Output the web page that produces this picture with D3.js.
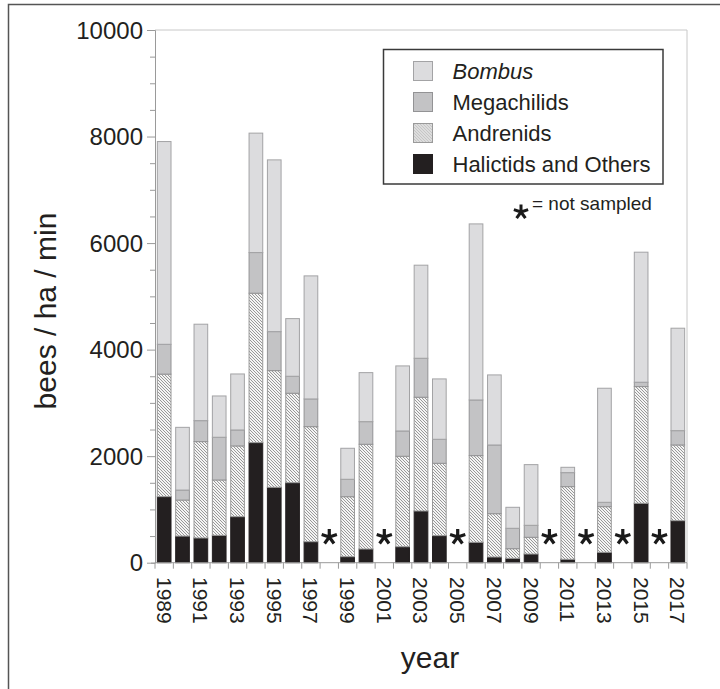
<!DOCTYPE html>
<html>
<head>
<meta charset="utf-8">
<script src="https://cdn.jsdelivr.net/npm/d3@7"></script>
<style>
  html, body { margin: 0; padding: 0; background: #fff; }
  svg { display: block; font-family: "Liberation Sans", Arial, sans-serif; }
</style>
</head>
<body>
<svg id="chart" width="720" height="689"></svg>
<script>
// Bee visitation (bees / ha / min) by year; null = year not sampled
const years      = d3.range(1989, 2018);
const halictids  = [1240, 500, 464, 514, 864, 2254, 1416, 1502, 394, null, 113, 257, null, 300, 971, 508, null, 383, 107, 82, 163, null, 64, null, 195, null, 1115, null, 789];
const andrenids  = [2300, 676, 1809, 1039, 1328, 2805, 2190, 1679, 2160, null, 1126, 1966, null, 1698, 2135, 1358, null, 1627, 813, 181, 314, null, 1364, null, 857, null, 2191, null, 1421];
const megachilids= [560, 188, 394, 802, 300, 763, 732, 319, 520, null, 327, 425, null, 475, 732, 451, null, 1045, 1290, 383, 225, null, 263, null, 82, null, 82, null, 269];
const bombus     = [3806, 1177, 1810, 775, 1051, 2242, 3224, 1082, 2310, null, 582, 920, null, 1221, 1747, 1133, null, 3305, 1315, 394, 1139, null, 100, null, 2141, null, 2441, null, 1923];
const yTicks     = [0, 2000, 4000, 6000, 8000, 10000];
const xTickYears = years.filter(y => y % 2 === 1);

const seriesKeys   = ["halictids", "andrenids", "megachilids", "bombus"];
const seriesNames  = { bombus: "Bombus", megachilids: "Megachilids", andrenids: "Andrenids", halictids: "Halictids and Others" };
const seriesFill   = { bombus: "#dcdcde", megachilids: "#c3c3c5", andrenids: "url(#hatch)", halictids: "#231f20" };
const seriesStroke = { bombus: "#a3a3a5", megachilids: "#939395", andrenids: "#9a9a9a", halictids: "#231f20" };

const rows = years.map((yr, i) => ({
  year: yr,
  sampled: bombus[i] !== null,
  halictids: halictids[i] || 0,
  andrenids: andrenids[i] || 0,
  megachilids: megachilids[i] || 0,
  bombus: bombus[i] || 0
}));

const svg = d3.select("#chart");

// hatch pattern for Andrenids
const defs = svg.append("defs");
const pat = defs.append("pattern")
  .attr("id", "hatch").attr("patternUnits", "userSpaceOnUse")
  .attr("width", 3).attr("height", 3);
pat.append("rect").attr("width", 3).attr("height", 3).attr("fill", "#f4f4f4");
pat.append("path").attr("d", "M-1,-1 L4,4 M-1,2 L1,4 M2,-1 L4,1")
  .attr("stroke", "#8d8d8d").attr("stroke-width", 0.9);

// outer frame
svg.append("rect").attr("x", 8.5).attr("y", 4.5).attr("width", 740).attr("height", 720)
  .attr("fill", "none").attr("stroke", "#555").attr("stroke-width", 1.5);

const plotLeft = 155, plotRight = 687, plotTop = 30, plotBottom = 562.7;

const x = d3.scaleBand().domain(years).range([plotLeft, plotRight]).paddingInner(0.2).paddingOuter(0.1);
const y = d3.scaleLinear().domain([0, 10000]).range([plotBottom, plotTop]);

// plot frame (top / right)
svg.append("path")
  .attr("d", `M${plotLeft},${plotTop}H${plotRight}V${plotBottom}`)
  .attr("fill", "none").attr("stroke", "#c8c8c8").attr("stroke-width", 1);

// stacked bars
const stack = d3.stack().keys(seriesKeys)(rows);
const layers = svg.append("g").selectAll("g").data(stack).join("g")
  .attr("fill", d => seriesFill[d.key])
  .attr("stroke", d => seriesStroke[d.key])
  .attr("stroke-width", 1);

layers.selectAll("rect")
  .data(d => d.filter(p => p.data.sampled && p[1] > p[0]))
  .join("rect")
  .attr("x", p => x(p.data.year) + 0.5)
  .attr("width", x.bandwidth() - 1)
  .attr("y", p => y(p[1]))
  .attr("height", p => y(p[0]) - y(p[1]));

// five-armed asterisk glyph
function asterisk(r) {
  const path = d3.path();
  for (let k = 0; k < 5; k++) {
    const a = -Math.PI / 2 + k * 2 * Math.PI / 5;
    path.moveTo(0, 0);
    path.lineTo(r * Math.cos(a), r * Math.sin(a));
  }
  return path.toString();
}

// not-sampled markers
svg.append("g").selectAll("path")
  .data(rows.filter(d => !d.sampled))
  .join("path")
  .attr("transform", d => `translate(${x(d.year) + x.bandwidth() / 2},${537})`)
  .attr("d", asterisk(8))
  .attr("fill", "none").attr("stroke", "#1a1a1a").attr("stroke-width", 3.2);

// y axis
const yAxis = svg.append("g").attr("transform", `translate(${plotLeft},0)`)
  .call(d3.axisLeft(y).tickValues(d3.range(0, 10001, 500)).tickSize(4).tickFormat(""));
yAxis.select(".domain").attr("stroke", "#9a9a9a");
yAxis.selectAll(".tick line").attr("stroke", "#9a9a9a")
  .attr("x2", d => (d % 2000 === 0 ? -8 : -5));
svg.append("g").selectAll("text").data(yTicks).join("text")
  .attr("x", 143).attr("y", d => y(d))
  .attr("dy", "0.36em").attr("text-anchor", "end")
  .attr("font-size", 24).attr("fill", "#231f20")
  .text(d => d);

// x axis with ticks on band boundaries
const xa = svg.append("g");
xa.append("line").attr("x1", plotLeft).attr("x2", plotRight).attr("y1", plotBottom).attr("y2", plotBottom)
  .attr("stroke", "#9a9a9a");
xa.selectAll("line.tk").data(years.concat([years[years.length - 1] + 1])).join("line")
  .attr("class", "tk")
  .attr("x1", (d, i) => plotLeft + i * x.step()).attr("x2", (d, i) => plotLeft + i * x.step())
  .attr("y1", plotBottom).attr("y2", plotBottom + 6)
  .attr("stroke", "#9a9a9a");
xa.selectAll("text").data(xTickYears).join("text")
  .attr("transform", d => `translate(${x(d) + x.bandwidth() / 2},${577}) rotate(90)`)
  .attr("dy", "0.36em")
  .attr("font-size", 21).attr("fill", "#231f20")
  .text(d => d);

// axis titles
svg.append("text")
  .attr("transform", "translate(56,311) rotate(-90)")
  .attr("text-anchor", "middle").attr("font-size", 30).attr("fill", "#231f20")
  .text("bees / ha / min");
svg.append("text")
  .attr("x", 430).attr("y", 668)
  .attr("text-anchor", "middle").attr("font-size", 30).attr("fill", "#231f20")
  .text("year");

// legend
const legend = svg.append("g");
legend.append("rect").attr("x", 383.5).attr("y", 49.5).attr("width", 279.5).attr("height", 134.5)
  .attr("fill", "#fff").attr("stroke", "#3a3a3a").attr("stroke-width", 1.5);
const legendKeys = ["bombus", "megachilids", "andrenids", "halictids"];
const li = legend.selectAll("g.item").data(legendKeys).join("g")
  .attr("class", "item")
  .attr("transform", (d, i) => `translate(413.5,${61.5 + i * 31})`);
li.append("rect").attr("width", 19).attr("height", 19)
  .attr("fill", d => seriesFill[d]).attr("stroke", d => seriesStroke[d]);
li.append("text").attr("x", 39).attr("y", 9.5).attr("dy", "0.36em")
  .attr("font-size", 22).attr("fill", "#231f20")
  .attr("font-style", d => (d === "bombus" ? "italic" : "normal"))
  .text(d => seriesNames[d]);

// "not sampled" note
legend.append("path").attr("transform", "translate(521,212)")
  .attr("d", asterisk(7.5))
  .attr("fill", "none").attr("stroke", "#1a1a1a").attr("stroke-width", 3);
legend.append("text").attr("x", 532).attr("y", 210)
  .attr("font-size", 19).attr("fill", "#231f20")
  .text("= not sampled");
</script>
</body>
</html>
